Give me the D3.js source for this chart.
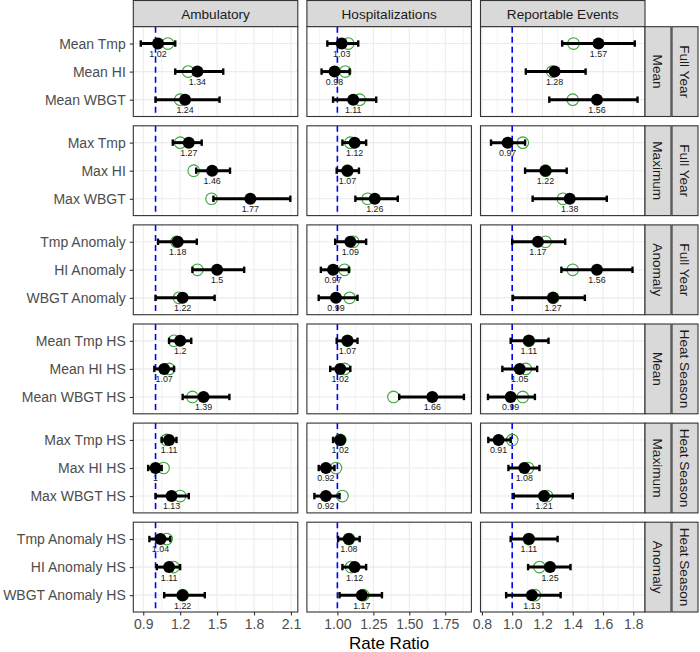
<!DOCTYPE html>
<html>
<head>
<meta charset="utf-8">
<script src="https://cdn.jsdelivr.net/npm/d3@7"></script>
<style>
  html, body { margin: 0; padding: 0; background: #fff; }
  svg { display: block; font-family: "Liberation Sans", Arial, Helvetica, sans-serif; }
</style>
</head>
<body>
<svg id="chart" width="700" height="652"></svg>
<script>
// ---------------- DATA ----------------
const outcomes = ["Ambulatory", "Hospitalizations", "Reportable Events"];
const measures = [
  "Mean Tmp", "Mean HI", "Mean WBGT",
  "Max Tmp", "Max HI", "Max WBGT",
  "Tmp Anomaly", "HI Anomaly", "WBGT Anomaly",
  "Mean Tmp HS", "Mean HI HS", "Mean WBGT HS",
  "Max Tmp HS", "Max HI HS", "Max WBGT HS",
  "Tmp Anomaly HS", "HI Anomaly HS", "WBGT Anomaly HS"
];
const metricGroups = ["Mean", "Maximum", "Anomaly", "Mean", "Maximum", "Anomaly"];
const periods = ["Full Year", "Full Year", "Full Year", "Heat Season", "Heat Season", "Heat Season"];

// Ambulatory
const ambEst = [1.02, 1.34, 1.24, 1.27, 1.46, 1.77, 1.18, 1.50, 1.22, 1.20, 1.07, 1.39, 1.11, 1.00, 1.13, 1.04, 1.11, 1.22];
const ambLow = [0.88, 1.16, 1.00, 1.14, 1.33, 1.47, 1.02, 1.30, 1.00, 1.11, 0.99, 1.22, 1.05, 0.94, 1.00, 0.95, 1.01, 1.07];
const ambHigh = [1.16, 1.55, 1.52, 1.375, 1.605, 2.095, 1.335, 1.72, 1.48, 1.29, 1.15, 1.60, 1.17, 1.05, 1.27, 1.12, 1.20, 1.40];
const ambAlt = [1.10, 1.265, 1.20, 1.20, 1.31, 1.455, 1.17, 1.34, 1.19, 1.15, 1.11, 1.30, 1.09, 1.065, 1.20, 1.09, 1.145, 1.22];

// Hospitalizations
const hospEst = [1.03, 0.98, 1.11, 1.12, 1.07, 1.26, 1.09, 0.97, 0.99, 1.07, 1.02, 1.66, 1.02, 0.92, 0.92, 1.08, 1.12, 1.17];
const hospLow = [0.93, 0.89, 0.97, 1.035, 0.995, 1.125, 0.985, 0.885, 0.87, 0.995, 0.95, 1.43, 0.97, 0.87, 0.84, 1.005, 1.035, 1.015];
const hospHigh = [1.145, 1.085, 1.27, 1.20, 1.15, 1.42, 1.20, 1.08, 1.14, 1.14, 1.09, 1.88, 1.04, 0.98, 1.015, 1.155, 1.20, 1.31];
const hospAlt = [1.075, 1.055, 1.155, 1.09, 1.07, 1.21, 1.11, 1.05, 1.085, 1.07, 1.05, 1.39, 1.02, 0.99, 1.035, 1.08, 1.095, 1.18];

// Reportable Events
const repEst = [1.57, 1.28, 1.56, 0.97, 1.22, 1.38, 1.17, 1.56, 1.27, 1.11, 1.05, 0.99, 0.91, 1.08, 1.21, 1.11, 1.25, 1.13];
const repLow = [1.33, 1.09, 1.245, 0.86, 1.085, 1.135, 1.00, 1.325, 1.005, 0.99, 0.935, 0.84, 0.842, 0.975, 1.01, 0.99, 1.105, 0.96];
const repHigh = [1.81, 1.485, 1.828, 1.085, 1.36, 1.625, 1.35, 1.795, 1.48, 1.24, 1.165, 1.15, 0.99, 1.18, 1.40, 1.30, 1.385, 1.32];
const repAlt = [1.405, 1.265, 1.40, 1.07, 1.22, 1.335, 1.22, 1.40, 1.27, 1.11, 1.09, 1.07, 1.00, 1.105, 1.23, 1.11, 1.18, 1.15];

// Axis ticks
const ambTicks = [0.9, 1.2, 1.5, 1.8, 2.1];
const ambTickLabels = ["0.9", "1.2", "1.5", "1.8", "2.1"];
const hospTicks = [1.00, 1.25, 1.50, 1.75];
const hospTickLabels = ["1.00", "1.25", "1.50", "1.75"];
const repTicks = [0.8, 1.0, 1.2, 1.4, 1.6, 1.8];
const repTickLabels = ["0.8", "1.0", "1.2", "1.4", "1.6", "1.8"];
const refValue = 1;
const xTitle = "Rate Ratio";

// ---------------- BUILD ----------------
const series = [
  {est: ambEst, low: ambLow, high: ambHigh, alt: ambAlt, ticks: ambTicks, tickLabels: ambTickLabels},
  {est: hospEst, low: hospLow, high: hospHigh, alt: hospAlt, ticks: hospTicks, tickLabels: hospTickLabels},
  {est: repEst, low: repLow, high: repHigh, alt: repAlt, ticks: repTicks, tickLabels: repTickLabels}
];

const svg = d3.select("#chart");
const panelLeft = 133.3, panelW = 164.5, colGap = 9.1;
const panelTop = 26.7, panelH = 89.8, rowGap = 9.3;
const stripW = 26;
const gridCol = "#ebebeb", borderCol = "#333333";
const stripFont = 13.6, axisFont = 14;

const colX = i => panelLeft + i * (panelW + colGap);
const rowY = j => panelTop + j * (panelH + rowGap);

// x scales: data range + 5% expansion
const xScales = series.map((s, i) => {
  const all = s.low.concat(s.high, s.est, s.alt);
  const [mn, mx] = d3.extent(all);
  const pad = (mx - mn) * 0.05;
  return d3.scaleLinear().domain([mn - pad, mx + pad]).range([colX(i), colX(i) + panelW]);
});

// top strips
outcomes.forEach((o, i) => {
  svg.append("rect").attr("x", colX(i)).attr("y", 0.5).attr("width", panelW).attr("height", panelTop - 0.5)
    .attr("fill", "#d9d9d9").attr("stroke", borderCol).attr("stroke-width", 1.1);
  svg.append("text").attr("x", colX(i) + panelW / 2).attr("y", panelTop / 2 + 0.5).attr("dy", "0.35em")
    .attr("text-anchor", "middle").attr("font-size", stripFont).attr("fill", "#1a1a1a").text(o);
});

const fmt = v => String(+v.toFixed(2));

for (let r = 0; r < 6; r++) {
  const y0 = rowY(r);
  const cats = measures.slice(r * 3, r * 3 + 3);
  const y = d3.scalePoint().domain(cats).range([y0, y0 + panelH]).padding(0.6);

  for (let c = 0; c < 3; c++) {
    const x = xScales[c];
    const s = series[c];
    const g = svg.append("g");
    const x0 = colX(c);
    g.append("rect").attr("x", x0).attr("y", y0).attr("width", panelW).attr("height", panelH).attr("fill", "#fff");

    // minor grid
    const major = s.ticks;
    const step = major[1] - major[0];
    const minors = [];
    for (let k = -1; k < major.length; k++) {
      const v = major[0] + (k + 0.5) * step;
      if (v >= x.domain()[0] && v <= x.domain()[1]) minors.push(v);
    }
    g.selectAll(null).data(minors).join("line")
      .attr("x1", d => x(d)).attr("x2", d => x(d)).attr("y1", y0).attr("y2", y0 + panelH)
      .attr("stroke", gridCol).attr("stroke-width", 0.6);
    g.selectAll(null).data(major).join("line")
      .attr("x1", d => x(d)).attr("x2", d => x(d)).attr("y1", y0).attr("y2", y0 + panelH)
      .attr("stroke", gridCol).attr("stroke-width", 1.1);
    g.selectAll(null).data(cats).join("line")
      .attr("x1", x0).attr("x2", x0 + panelW).attr("y1", d => y(d)).attr("y2", d => y(d))
      .attr("stroke", gridCol).attr("stroke-width", 1.1);

    // reference line
    g.append("line").attr("x1", x(refValue)).attr("x2", x(refValue)).attr("y1", y0).attr("y2", y0 + panelH)
      .attr("stroke", "#0000ff").attr("stroke-width", 1.6).attr("stroke-dasharray", "6,4");

    const rows = cats.map((m, k) => {
      const idx = r * 3 + k;
      return {m, est: s.est[idx], low: s.low[idx], high: s.high[idx], alt: s.alt[idx]};
    });

    // alternative estimate (open green circle)
    g.selectAll(null).data(rows).join("circle")
      .attr("cx", d => x(d.alt)).attr("cy", d => y(d.m)).attr("r", 5.8)
      .attr("fill", "none").attr("stroke", "#3aa53a").attr("stroke-width", 1.1);

    // error bars
    g.selectAll(null).data(rows).join("line")
      .attr("x1", d => x(d.low)).attr("x2", d => x(d.high)).attr("y1", d => y(d.m)).attr("y2", d => y(d.m))
      .attr("stroke", "#000").attr("stroke-width", 3);
    g.selectAll(null).data(rows.flatMap(d => [{m: d.m, v: d.low}, {m: d.m, v: d.high}])).join("line")
      .attr("x1", d => x(d.v)).attr("x2", d => x(d.v)).attr("y1", d => y(d.m) - 3.2).attr("y2", d => y(d.m) + 3.2)
      .attr("stroke", "#000").attr("stroke-width", 2.4);

    // point estimate
    g.selectAll(null).data(rows).join("circle")
      .attr("cx", d => x(d.est)).attr("cy", d => y(d.m)).attr("r", 6).attr("fill", "#000");

    // labels
    g.selectAll(null).data(rows).join("text")
      .attr("x", d => x(d.est)).attr("y", d => y(d.m) + 13.4)
      .attr("text-anchor", "middle").attr("font-size", 8.9).attr("fill", "#1a1a1a")
      .text(d => fmt(d.est));

    g.append("rect").attr("x", x0).attr("y", y0).attr("width", panelW).attr("height", panelH)
      .attr("fill", "none").attr("stroke", borderCol).attr("stroke-width", 1.1);

    // left axis
    if (c === 0) {
      const ax = svg.append("g").attr("transform", `translate(${x0},0)`)
        .call(d3.axisLeft(y).tickSize(3.5).tickPadding(4));
      ax.select(".domain").remove();
      ax.selectAll(".tick line").attr("stroke", borderCol).attr("stroke-width", 1.1);
      ax.selectAll(".tick text").attr("fill", "#4d4d4d").attr("font-size", axisFont)
        .attr("font-family", "Liberation Sans, Arial, sans-serif");
    }
    // bottom axis
    if (r === 5) {
      const ax = svg.append("g").attr("transform", `translate(0,${y0 + panelH})`)
        .call(d3.axisBottom(x).tickValues(s.ticks).tickFormat((d, i) => s.tickLabels[i]).tickSize(3.5).tickPadding(4));
      ax.select(".domain").remove();
      ax.selectAll(".tick line").attr("stroke", borderCol).attr("stroke-width", 1.1);
      ax.selectAll(".tick text").attr("fill", "#4d4d4d").attr("font-size", axisFont)
        .attr("font-family", "Liberation Sans, Arial, sans-serif");
    }
  }

  // right strips
  const sx1 = colX(2) + panelW;
  [[metricGroups[r], sx1], [periods[r], sx1 + stripW + 1]].forEach(([lab, sx]) => {
    svg.append("rect").attr("x", sx).attr("y", y0).attr("width", stripW).attr("height", panelH)
      .attr("fill", "#d9d9d9").attr("stroke", borderCol).attr("stroke-width", 1.1);
    svg.append("text").attr("transform", `translate(${sx + stripW / 2},${y0 + panelH / 2}) rotate(90)`)
      .attr("dy", "0.35em").attr("text-anchor", "middle").attr("font-size", stripFont).attr("fill", "#1a1a1a")
      .text(lab);
  });
}

// x title
svg.append("text").attr("x", panelLeft + (3 * panelW + 2 * colGap) / 2).attr("y", 648.5)
  .attr("text-anchor", "middle").attr("font-size", 17).attr("fill", "#000").text(xTitle);
</script>
</body>
</html>
